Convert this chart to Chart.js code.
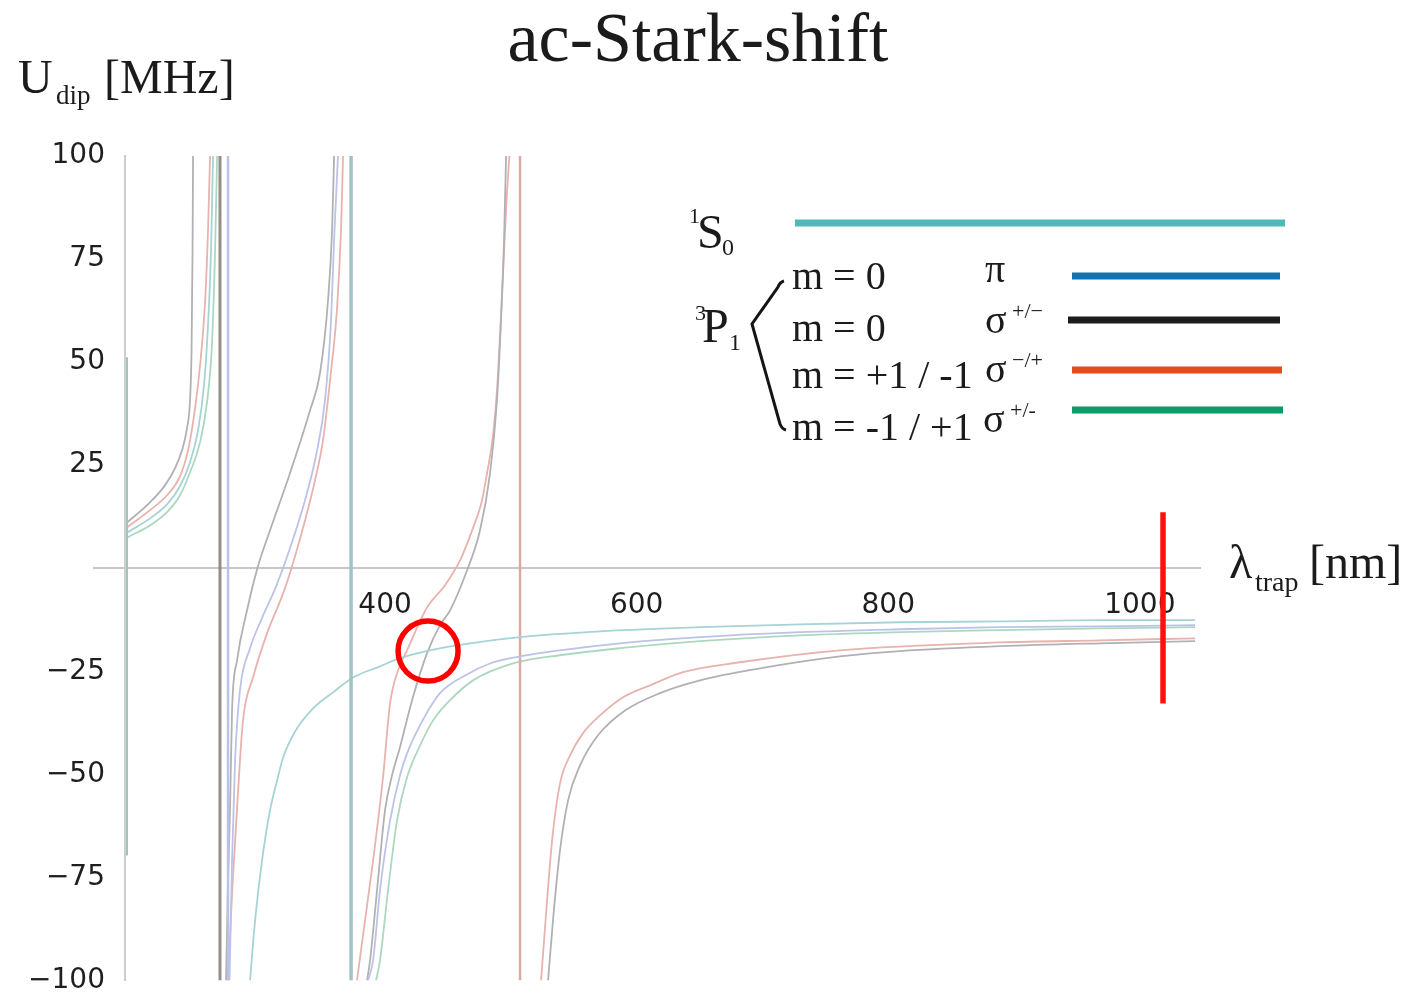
<!DOCTYPE html>
<html>
<head>
<meta charset="utf-8">
<title>ac-Stark-shift</title>
<script src="https://cdn.jsdelivr.net/npm/chart.js@4.4.1/dist/chart.umd.min.js"></script>
<style>
  html, body { margin: 0; padding: 0; background: #ffffff; overflow: hidden; }
  #wrap { position: relative; width: 1414px; height: 1006px; overflow: hidden; }
  #chart { position: absolute; left: 0; top: 0; }
  #overlay { position: absolute; left: 0; top: 0; pointer-events: none; }
  #overlay text { font-family: 'Liberation Serif', 'Times New Roman', serif; fill: #1b1b1b; }
</style>
</head>
<body>
<div id="wrap">
  <canvas id="chart" width="1414" height="1016"></canvas>
  <svg id="overlay" width="1414" height="1006" xmlns="http://www.w3.org/2000/svg">
    <!-- title -->
    <text x="698" y="61" text-anchor="middle" font-size="70">ac-Stark-shift</text>
    <!-- axis titles -->
    <text font-size="48"><tspan x="18" y="93">U</tspan><tspan x="56" y="104" font-size="27">dip</tspan><tspan x="104" y="93">[MHz]</tspan></text>
    <text font-size="48"><tspan x="1229" y="578">λ</tspan><tspan x="1255" y="591" font-size="28">trap</tspan><tspan x="1309" y="578">[nm]</tspan></text>

    <!-- legend: ground state -->
    <text font-size="48"><tspan x="689" y="223" font-size="22">1</tspan><tspan x="697" y="248">S</tspan><tspan x="722" y="255" font-size="24">0</tspan></text>
    <line id="key0" x1="795" y1="223" x2="1285" y2="223" stroke-width="7"/>

    <!-- legend: excited state sublevels -->
    <text font-size="48"><tspan x="695" y="320" font-size="22">3</tspan><tspan x="702" y="342">P</tspan><tspan x="729" y="350" font-size="24">1</tspan></text>
    <path d="M784,281 Q780,282 778,287 L752,324 L780,424 Q782,429 786,430" fill="none" stroke="#151515" stroke-width="3"/>

    <text x="792" y="289" font-size="40">m = 0</text>
    <text x="985" y="282" font-size="40">π</text>
    <line id="key1" x1="1072" y1="276" x2="1280" y2="276" stroke-width="7"/>

    <text x="792" y="341" font-size="40">m = 0</text>
    <text font-size="40"><tspan x="985" y="333">σ</tspan><tspan x="1012" y="318" font-size="22">+/−</tspan></text>
    <line id="key2" x1="1068" y1="320" x2="1280" y2="320" stroke-width="7"/>

    <text x="792" y="388" font-size="40">m = +1 / -1</text>
    <text font-size="40"><tspan x="985" y="382">σ</tspan><tspan x="1012" y="367" font-size="22">−/+</tspan></text>
    <line id="key3" x1="1072" y1="370" x2="1282" y2="370" stroke-width="7"/>

    <text x="792" y="440" font-size="40">m = -1 / +1</text>
    <text font-size="40"><tspan x="983" y="432">σ</tspan><tspan x="1010" y="417" font-size="22">+/-</tspan></text>
    <line id="key4" x1="1072" y1="410" x2="1283" y2="410" stroke-width="7"/>
  </svg>
</div>

<script>
// Trap wavelength (nm) and dipole potential (MHz) for each level.
// null separates branches on either side of a resonance.

// 1S0 ground state
const s0Nm = [194.9, 194.9, null,
  195.3, 213.2, 226.7, 237.0, 245.0, 251.4, 256.1, 259.3, 261.7, 263.3, null,
  292.7, 296.7, 302.2, 308.6, 314.2, 319.0, 328.5, 342.8, 358.7, 374.6, 396.0, 411.9, 435.8,
  467.6, 507.3, 570.9, 650.4, 729.9, 809.4, 888.9, 968.3, 1043.9, null,
  373.0, 373.0];
const s0MHz = [51.2, -69.7, null,
  8.7, 12.1, 15.5, 19.9, 25.7, 33.5, 44.4, 59.0, 77.2, 100, null,
  -100, -85.4, -70.9, -58.7, -51.5, -45.9, -39.6, -34.0, -30.1, -26.5, -23.8, -21.8, -19.9,
  -18.2, -16.7, -15.3, -14.3, -13.6, -13.1, -12.9, -12.6, -12.6, null,
  100, -100];

// 3P1 m=0, pi
const piNm = [275.2, 275.2, null,
  276.4, 278.4, 280.8, 284.7, 292.7, 302.2, 313.4, 324.5, 336.4, 345.2, 352.3, 357.1, 359.5, 362.6, null,
  386.5, 390.5, 396.0, 404.0, 411.9, 417.5, 427.8, 443.7, 463.6, 483.5, 507.3, 539.1, 586.8,
  650.4, 729.9, 809.4, 888.9, 968.3, 1043.9];
const piMHz = [100, -100, null,
  -100, -70.9, -46.6, -29.6, -19.4, -12.1, -4.4, 4.9, 16.5, 27.4, 40.8, 60.2, 79.6, 100, null,
  -100, -95.1, -78.1, -61.2, -50.2, -44.9, -38.1, -30.3, -26.0, -23.1, -21.4, -19.9, -18.2,
  -16.7, -15.5, -14.8, -14.3, -14.1, -13.8];

// 3P1 m=0, sigma+/-
const sigmaZeroNm = [195.3, 213.2, 225.1, 233.1, 238.6, 242.6, 245.0, 246.2, 247.0, 247.4, null,
  268.8, 268.8, null,
  273.6, 275.2, 276.8, 278.4, 282.4, 290.3, 299.0, 308.6, 324.5, 340.4, 348.3, 354.7, 357.9, 359.5, null,
  385.7, 388.1, 394.4, 400.0, 405.6, 411.9, 421.5, 433.4, 443.7, 451.7, 465.2, 475.5, 483.5,
  489.0, 492.2, 494.6, 496.2, null,
  529.6, 533.5, 539.1, 545.5, 555.0, 569.3, 590.8, 618.6, 650.4, 698.1, 761.7, 809.4, 888.9, 968.3, 1043.9];
const sigmaZeroMHz = [11.2, 16.0, 20.1, 24.3, 28.6, 34.0, 40.8, 52.9, 77.2, 100, null,
  100, -100, null,
  -100, -75.7, -58.0, -34.5, -22.3, -10.2, 0.5, 9.2, 23.1, 38.3, 47.3, 65.0, 82.0, 100, null,
  -100, -95.1, -75.7, -58.7, -50.2, -43.4, -32.0, -20.6, -13.8, -10.2, -0.5, 9.2, 23.1,
  40.8, 60.2, 79.6, 100, null,
  -100, -85.4, -68.4, -56.3, -47.8, -40.5, -34.5, -30.3, -27.2, -24.3, -21.4, -20.1, -18.9, -18.2, -17.7];

// 3P1 m=+1/-1, sigma-/+
const sigmaPlusOneNm = [195.3, 213.2, 226.7, 237.0, 243.4, 248.2, 253.0, 257.0, 259.3, 260.9, null,
  275.2, 278.4, 282.4, 287.1, 295.1, 306.2, 319.0, 326.1, 336.4, 344.4, 350.7, 356.3, 361.9, 365.0, 366.6, null,
  377.7, 384.1, 390.5, 398.4, 404.0, 410.3, 417.5, 433.4, 447.7, 459.6, 469.2, 477.1, 481.1,
  485.9, 489.0, 493.8, 496.6, 498.8, null,
  507.3, 507.3, null,
  524.0, 526.4, 528.8, 532.8, 539.1, 547.1, 557.4, 570.9, 589.2, 610.7, 636.9, 682.2, 761.7, 888.9, 968.3, 1043.9];
const sigmaPlusOneMHz = [10.0, 14.1, 17.7, 22.3, 28.6, 37.1, 49.3, 65.0, 82.0, 100, null,
  -100, -78.9, -58.0, -36.9, -26.5, -15.8, -6.1, 0.5, 11.6, 21.4, 31.1, 45.6, 63.3, 82.0, 100, null,
  -100, -85.4, -70.9, -50.7, -32.8, -24.8, -19.9, -9.5, -4.1, 1.9, 9.2, 16.5, 23.1,
  32.3, 43.2, 71.6, 89.3, 100, null,
  100, -100, null,
  -100, -90.3, -80.6, -66.0, -52.2, -45.4, -40.0, -35.7, -31.3, -28.4, -25.2, -22.8, -19.9, -18.0, -17.5, -17.0];

// 3P1 m=-1/+1, sigma+/-
const sigmaMinusOneNm = [195.3, 213.2, 226.7, 237.0, 245.0, 253.0, 258.5, 262.5, 264.9, 266.5, null,
  392.9, 396.0, 402.4, 409.5, 417.5, 427.8, 438.2, 451.7, 470.0, 501.7, 539.1, 586.8, 650.4,
  729.9, 809.4, 888.9, 968.3, 1043.9];
const sigmaMinusOneMHz = [7.5, 10.4, 13.6, 17.7, 23.3, 30.6, 40.3, 54.8, 77.2, 100, null,
  -100, -95.1, -78.1, -61.2, -50.7, -43.0, -36.9, -32.0, -27.2, -23.1, -21.1, -19.4, -17.7,
  -16.3, -15.5, -15.0, -14.6, -14.3];

// magic-wavelength crossing and trap laser
const magicNm = [434.2];
const magicMHz = [-20.1];
const laserNm = [1018.4, 1018.4];
const laserMHz = [13.6, -32.8];

// axis ticks
const xTicks = [400, 600, 800, 1000];
const yTicks = [-100, -75, -50, -25, 25, 50, 75, 100];

// key colours (legend) and the paler colours used for the curves
const keyColors = ['#4fb8b9', '#1174b1', '#1d1d1d', '#e64b1a', '#0b9c69'];
const curveColors = ['#a6d3d5', '#bcc3e7', '#b1b1b5', '#e8b2ad', '#acd8bf'];
const poleColors = ['#a2c3c0', '#bac2e8', '#958e84', '#daaaa3', '#acd8bf'];
const poleWidths = [3.5, 2.5, 3, 2.5, 2];

keyColors.forEach((c, i) => document.getElementById('key' + i).setAttribute('stroke', c));

const toPoints = (xs, ys) => xs.map((x, i) => ({ x: x === null ? NaN : x, y: ys[i] }));
const isPole = ctx => ctx.p0.parsed.x === ctx.p1.parsed.x;
// the short resonance edge at the very start of the range is drawn thinner
const poleWidth = (ctx, i) => (ctx.p0.parsed.x < 200 ? 2 : poleWidths[i]);

const levels = [
  ['1S0', s0Nm, s0MHz],
  ['3P1 m=0 π', piNm, piMHz],
  ['3P1 m=0 σ+/-', sigmaZeroNm, sigmaZeroMHz],
  ['3P1 m=+1/-1 σ-/+', sigmaPlusOneNm, sigmaPlusOneMHz],
  ['3P1 m=-1/+1 σ+/-', sigmaMinusOneNm, sigmaMinusOneMHz]
];

const curveSets = levels.map(([label, xs, ys], i) => ({
  label,
  data: toPoints(xs, ys),
  borderColor: curveColors[i],
  borderWidth: 1.8,
  pointRadius: 0,
  spanGaps: false,
  cubicInterpolationMode: 'monotone',
  segment: {
    borderColor: ctx => (isPole(ctx) ? poleColors[i] : undefined),
    borderWidth: ctx => (isPole(ctx) ? poleWidth(ctx, i) : undefined)
  }
}));

const datasets = [
  {
    label: 'magic wavelength',
    data: toPoints(magicNm, magicMHz),
    showLine: false,
    pointRadius: 30,
    pointBorderWidth: 5.5,
    pointBorderColor: '#ff0000',
    pointBackgroundColor: 'rgba(0,0,0,0)'
  },
  {
    label: 'trap laser',
    data: toPoints(laserNm, laserMHz),
    borderColor: '#ff1010',
    borderWidth: 5.5,
    pointRadius: 0
  }
].concat(curveSets);

const fmt = v => (v < 0 ? '\u2212' + Math.abs(v) : String(v));
// keep the plot frame fixed by the layout padding alone
const noOverhang = s => { s.paddingTop = 0; s.paddingBottom = 0; s.paddingLeft = 0; s.paddingRight = 0; };

// the wavelength axis runs a little past the potential axis on the left
const axisStub = {
  id: 'axisStub',
  beforeDatasetsDraw(chart) {
    const { ctx, chartArea, scales } = chart;
    const y = Math.round(scales.y.getPixelForValue(0));
    ctx.save();
    ctx.strokeStyle = '#c6c6c6';
    ctx.lineWidth = 2;
    ctx.beginPath();
    ctx.moveTo(chartArea.left - 32, y);
    ctx.lineTo(chartArea.left, y);
    ctx.stroke();
    ctx.restore();
  }
};

new Chart(document.getElementById('chart'), {
  type: 'line',
  data: { datasets },
  plugins: [axisStub],
  options: {
    responsive: false,
    animation: false,
    devicePixelRatio: 1,
    layout: { padding: { left: 0, right: 214, top: 156, bottom: 26 } },
    plugins: { legend: { display: false }, tooltip: { enabled: false } },
    scales: {
      x: {
        type: 'linear',
        min: 193.3,
        max: 1047.8,
        position: { y: 0 },
        afterFit: s => { noOverhang(s); },
        grid: { display: true, drawOnChartArea: false, drawTicks: false, color: 'rgba(0,0,0,0)' },
        border: { display: true, color: '#c6c6c6', width: 2 },
        afterBuildTicks: s => { s.ticks = xTicks.map(v => ({ value: v })); },
        ticks: {
          padding: 21,
          color: '#1e1e1e',
          maxRotation: 0,
          autoSkip: false,
          font: { family: 'DejaVu Sans', size: 28 },
          callback: v => fmt(v)
        }
      },
      y: {
        type: 'linear',
        min: -100,
        max: 100,
        position: 'left',
        afterFit: s => { s.width = 125; noOverhang(s); },
        grid: { display: true, drawOnChartArea: false, drawTicks: false, color: 'rgba(0,0,0,0)' },
        border: { display: true, color: '#cecece', width: 2 },
        afterBuildTicks: s => { s.ticks = yTicks.map(v => ({ value: v })); },
        ticks: {
          padding: 20,
          color: '#1e1e1e',
          autoSkip: false,
          font: { family: 'DejaVu Sans', size: 28 },
          callback: v => fmt(v)
        }
      }
    }
  }
});
</script>
</body>
</html>
